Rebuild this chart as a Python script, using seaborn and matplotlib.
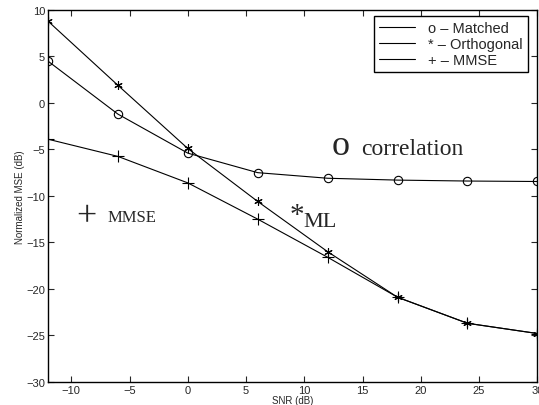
import numpy as np
import pandas as pd
import matplotlib
matplotlib.use("Agg")
import matplotlib.pyplot as plt
from matplotlib.lines import Line2D
import seaborn as sns

snr = [-12, -6, 0, 6, 12, 18, 24, 30]
matched = [4.5, -1.2, -5.4, -7.5, -8.1, -8.3, -8.4, -8.45]
orthogonal = [8.8, 1.9, -4.9, -10.6, -16.0, -20.9, -23.7, -24.8]
mmse = [-3.9, -5.75, -8.6, -12.5, -16.6, -20.9, -23.7, -24.8]
legend_labels = ["o \u2013 Matched", "* \u2013 Orthogonal", "+ \u2013 MMSE"]

sns.set_style("ticks")
plt.rcParams['font.family'] = ['Liberation Sans', 'DejaVu Sans']
plt.rcParams['xtick.direction'] = 'in'
plt.rcParams['ytick.direction'] = 'in'

fig = plt.figure(figsize=(5.39, 4.06), dpi=100)
ax = fig.add_axes([0.089, 0.057, 0.908, 0.916])

sns.lineplot(x=snr, y=matched, ax=ax, color='black', lw=0.8, marker='o',
             markersize=6, markerfacecolor='none', markeredgecolor='black', markeredgewidth=0.8)
sns.lineplot(x=snr, y=orthogonal, ax=ax, color='black', lw=0.8, marker=(6, 2, 0),
             markersize=6, markeredgecolor='black', markeredgewidth=0.8)
sns.lineplot(x=snr, y=mmse, ax=ax, color='black', lw=0.8, marker='+',
             markersize=8, markeredgecolor='black', markeredgewidth=0.8)

ax.set_xlim(-12, 30)
ax.set_ylim(-30, 10)
ax.set_xticks([-10, -5, 0, 5, 10, 15, 20, 25, 30])
ax.set_yticks([-30, -25, -20, -15, -10, -5, 0, 5, 10])
ax.set_xticklabels(["\u221210", "\u22125", "0", "5", "10", "15", "20", "25", "30"])
ax.set_yticklabels(["\u221230", "\u221225", "\u221220", "\u221215", "\u221210", "\u22125", "0", "5", "10"])
ax.tick_params(labelsize=8, length=4, width=0.8, top=True, right=True, pad=2)
for s in ax.spines.values():
    s.set_linewidth(1.0)
    s.set_visible(True)
    s.set_color('black')

ax.set_xlabel("SNR (dB)", fontsize=7, labelpad=0)
ax.set_ylabel("Normalized MSE (dB)", fontsize=7, labelpad=1)

handles = [Line2D([0], [0], color='black', lw=0.8) for _ in legend_labels]
leg = ax.legend(handles, legend_labels, loc='upper right', fontsize=10.5, frameon=True,
                fancybox=False, edgecolor='black', framealpha=1, handlelength=2.5,
                handletextpad=0.9, labelspacing=0.15, borderpad=0.35, borderaxespad=0,
                bbox_to_anchor=(0.981, 0.984))
leg.get_frame().set_linewidth(1.0)

serif = ['Liberation Serif', 'DejaVu Serif']
ax.text(12.3, -5.5, "o", fontsize=26, family=serif, va='baseline')
ax.text(14.9, -5.5, "correlation", fontsize=17, family=serif, va='baseline')
ax.text(-9.6, -13.2, "+", fontsize=26, family=serif, va='baseline')
ax.text(-6.9, -12.65, "MMSE", fontsize=12, family=serif, va='baseline')
ax.text(8.7, -12.8, "*", fontsize=21, family=serif, va='baseline')
ax.text(9.9, -13.2, "ML", fontsize=16, family=serif, va='baseline')

fig.savefig("out.png", dpi=100)
